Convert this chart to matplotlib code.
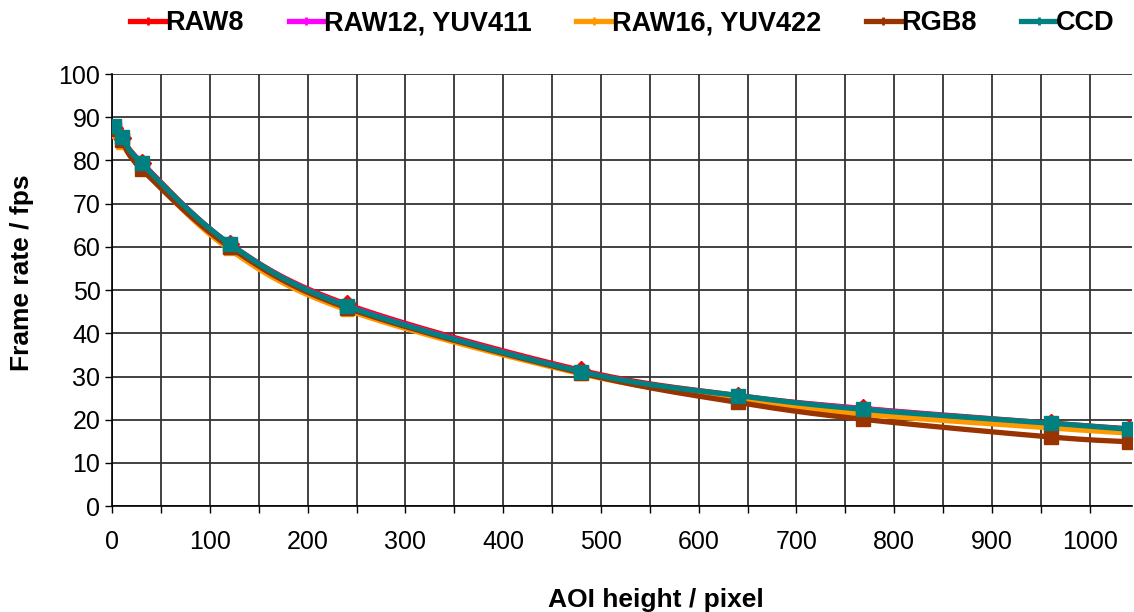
import numpy as np
import matplotlib
matplotlib.use("Agg")
import matplotlib.pyplot as plt
from matplotlib.ticker import MultipleLocator

# AOI height (pixel) vs frame rate (fps)
aoi_height = [2, 10, 30, 120, 240, 480, 640, 768, 960, 1040]
raw8 = [87.5, 85.3, 79.5, 60.7, 46.7, 31.4, 25.6, 22.6, 19.2, 17.9]
raw12 = [87.7, 85.4, 79.3, 60.6, 46.4, 31.1, 25.4, 22.5, 19.0, 17.7]
raw16 = [86.6, 84.0, 78.3, 59.4, 45.4, 30.6, 24.7, 21.3, 18.1, 16.9]
rgb8 = [87.2, 84.7, 78.0, 60.0, 45.9, 30.8, 24.0, 20.1, 16.0, 14.9]
ccd = [87.9, 85.4, 79.3, 60.7, 46.3, 31.1, 25.6, 22.4, 19.2, 17.8]

series_names = ["RAW8", "RAW12, YUV411", "RAW16, YUV422", "RGB8", "CCD"]
series_vals = [raw8, raw12, raw16, rgb8, ccd]
colors = ["#FF0000", "#FF00FF", "#FF9900", "#993300", "#008080"]
markers = ["D", "s", "^", "s", "s"]
msizes = [9, 7, 9, 10, 10]


def smooth(x, y, steps=30):
    # Excel-style smoothed line (Catmull-Rom as cubic Bezier)
    x = np.asarray(x, float)
    y = np.asarray(y, float)
    px = np.concatenate([[x[0]], x, [x[-1]]])
    py = np.concatenate([[y[0]], y, [y[-1]]])
    t = np.linspace(0, 1, steps)
    xs, ys = [], []
    for i in range(1, len(px) - 2):
        p0 = np.array([px[i], py[i]])
        p3 = np.array([px[i + 1], py[i + 1]])
        c1 = p0 + (np.array([px[i + 1], py[i + 1]]) - np.array([px[i - 1], py[i - 1]])) / 6
        c2 = p3 - (np.array([px[i + 2], py[i + 2]]) - np.array([px[i], py[i]])) / 6
        b = ((1 - t) ** 3)[:, None] * p0 + (3 * (1 - t) ** 2 * t)[:, None] * c1 \
            + (3 * (1 - t) * t ** 2)[:, None] * c2 + (t ** 3)[:, None] * p3
        xs.append(b[:, 0])
        ys.append(b[:, 1])
    return np.concatenate(xs), np.concatenate(ys)


plt.rcParams['font.family'] = ['Liberation Sans', 'DejaVu Sans']

fig = plt.figure(figsize=(11.34, 6.12), dpi=100)
ax = fig.add_axes([0.099, 0.173, 0.899, 0.706])

handles = []
for name, vals, c, m, ms in zip(series_names, series_vals, colors, markers, msizes):
    sx, sy = smooth(aoi_height, vals)
    ax.plot(sx, sy, color=c, lw=3.8, solid_capstyle='round', zorder=3)
    ax.plot(aoi_height, vals, linestyle='none', marker=m, markersize=ms,
            color=c, markeredgecolor=c, zorder=3)
    h, = ax.plot([], [], color=c, lw=3.8, marker='+', markersize=6, markeredgewidth=2)
    handles.append(h)

ax.set_xlim(0, 1043)
ax.set_ylim(0, 100)
ax.xaxis.set_major_locator(MultipleLocator(100))
ax.xaxis.set_minor_locator(MultipleLocator(50))
ax.yaxis.set_major_locator(MultipleLocator(10))
ax.grid(True, which='both', color='#333333', lw=1.3, zorder=0)
ax.set_axisbelow(True)
for s in ['top', 'right']:
    ax.spines[s].set_visible(False)
for s in ['left', 'bottom']:
    ax.spines[s].set_color('black')
    ax.spines[s].set_linewidth(1.2)
ax.tick_params(axis='both', which='both', direction='out', length=5, width=1, labelsize=18, color='black')
ax.tick_params(axis='x', pad=12)

ax.set_xlabel("AOI height / pixel", fontsize=19, fontweight='bold')
ax.set_ylabel("Frame rate / fps", fontsize=19, fontweight='bold')
ax.xaxis.set_label_coords(0.533, -0.19)
ax.yaxis.set_label_coords(-0.077, 0.54)

fig.legend(handles, series_names, loc='center', bbox_to_anchor=(0.549, 0.962), ncol=5,
           frameon=False, prop={'size': 19.5, 'weight': 'bold'}, handlelength=1.3,
           handletextpad=0.0, columnspacing=1.65)

fig.savefig("out.png", dpi=100)
